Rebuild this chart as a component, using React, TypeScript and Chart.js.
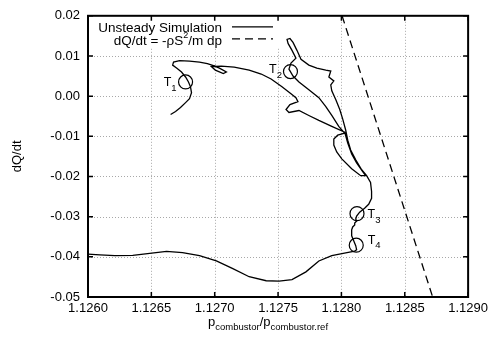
import React, { useEffect, useRef } from "react";
import { Chart, registerables } from "chart.js";

Chart.register(...registerables);

// ---- data ----
const xTicks = [1.126, 1.1265, 1.127, 1.1275, 1.128, 1.1285, 1.129];
const yTicks = [0.02, 0.01, 0.0, -0.01, -0.02, -0.03, -0.04, -0.05];

const simX = [
  1.126652, 1.126691, 1.12673, 1.12677, 1.126801, 1.126817, 1.126809, 1.126793, 1.12677, 1.126738,
  1.126699, 1.126668, 1.126675, 1.126723, 1.126801, 1.12688, 1.126942, 1.12699, 1.127037, 1.127092,
  1.127068, 1.127005, 1.126974, 1.127052, 1.127154, 1.127272, 1.127367, 1.127445, 1.127531, 1.127602,
  1.127641, 1.127657, 1.127594, 1.127563, 1.127586, 1.127665, 1.127743, 1.127822, 1.127924, 1.128026,
  1.12805, 1.128081, 1.12812, 1.128168, 1.128191, 1.128152, 1.128081, 1.128003, 1.127963, 1.12794,
  1.12794, 1.127971, 1.128026, 1.127979, 1.127924, 1.127877, 1.127822, 1.127743, 1.127665, 1.127618,
  1.127586, 1.127602, 1.127641, 1.12761, 1.127579, 1.127571, 1.127594, 1.127618, 1.127649, 1.127681,
  1.127743, 1.127806, 1.127877, 1.127916, 1.127901, 1.12794, 1.127916, 1.127924, 1.127956, 1.127987,
  1.128011, 1.128034, 1.12805, 1.128073, 1.128113, 1.12816, 1.128199, 1.12823, 1.128238, 1.128238,
  1.128215, 1.128183, 1.128144, 1.12812, 1.128113, 1.12812, 1.128105, 1.128105, 1.128089, 1.128081,
  1.128081, 1.128097, 1.128113, 1.12812, 1.128105, 1.128034, 1.127924, 1.127822, 1.12772, 1.12761,
  1.127508, 1.127406, 1.127272, 1.127139, 1.127013, 1.12688, 1.126746, 1.12662, 1.126487, 1.126353,
  1.126212, 1.126094, 1.126,
];
const simY = [
  -0.00456, -0.00382, -0.00284, -0.00161, -0.00063, 0.00084, 0.00232, 0.00354, 0.00477, 0.006,
  0.00698, 0.00772, 0.00846, 0.00882, 0.0087, 0.00846, 0.00809, 0.0076, 0.00698, 0.006,
  0.00563, 0.00649, 0.00735, 0.00747, 0.00723, 0.00649, 0.00551, 0.00428, 0.00232, 0.0006,
  -0.00039, -0.00137, -0.00211, -0.00333, -0.00407, -0.00358, -0.00481, -0.00604, -0.00751, -0.00898,
  -0.01168, -0.01439, -0.0166, -0.01881, -0.01979, -0.01979, -0.01807, -0.01561, -0.01389, -0.01218,
  -0.0107, -0.00972, -0.00923, -0.00751, -0.00481, -0.0026, -0.00039, 0.00158, 0.00354, 0.00502,
  0.00674, 0.00821, 0.00944, 0.0114, 0.01312, 0.01411, 0.01435, 0.01337, 0.0114, 0.00919,
  0.00772, 0.00698, 0.00649, 0.00625, 0.00477, 0.00379, 0.00281, 0.00133, -0.00088, -0.00333,
  -0.00579, -0.00849, -0.01095, -0.0134, -0.01586, -0.01832, -0.01979, -0.02151, -0.02372, -0.02544,
  -0.02691, -0.02789, -0.02888, -0.02986, -0.0306, -0.03109, -0.03158, -0.03207, -0.03256, -0.0333,
  -0.03477, -0.036, -0.03723, -0.03821, -0.03858, -0.03902, -0.03968, -0.04103, -0.04374, -0.04565,
  -0.04607, -0.04595, -0.04496, -0.04288, -0.04103, -0.03968, -0.03895, -0.03863, -0.03912, -0.03963,
  -0.03968, -0.03949, -0.03931,
];

const lineX = [1.128005, 1.12872];
const lineY = [0.02, -0.05];

const markerNames = ["1", "2", "3", "4"];
const markerX = [1.12677, 1.127598, 1.128123, 1.128117];
const markerY = [0.00354, 0.00612, -0.02925, -0.0371];

// ---- styling ----
const FAM = '"Liberation Sans", Arial, Helvetica, sans-serif';
const labelStyle = [
  { align: "right", dx: -9, dy: 4.5 },
  { align: "right", dx: -8.5, dy: 1.5 },
  { align: "left", dx: 10.5, dy: 4.7 },
  { align: "left", dx: 11.5, dy: -1.5 },
];

type Seg = { t: string; s?: "sub" | "sup" };

function drawRich(
  ctx: CanvasRenderingContext2D,
  segs: Seg[],
  x: number,
  y: number,
  align: string,
  mainPx: number,
  smallPx: number,
  subShift: number,
  supShift: number
) {
  let w = 0;
  for (const s of segs) {
    ctx.font = `${s.s ? smallPx : mainPx}px ${FAM}`;
    w += ctx.measureText(s.t).width;
  }
  let cx = align === "right" ? x - w : align === "center" ? x - w / 2 : x;
  ctx.textAlign = "left";
  ctx.textBaseline = "alphabetic";
  ctx.fillStyle = "#000";
  for (const s of segs) {
    ctx.font = `${s.s ? smallPx : mainPx}px ${FAM}`;
    const dy = s.s === "sub" ? subShift : s.s === "sup" ? -supShift : 0;
    ctx.fillText(s.t, cx, y + dy);
    cx += ctx.measureText(s.t).width;
  }
}

const decoPlugin = {
  id: "deco",
  beforeDatasetsDraw(chart: any) {
    const { ctx, chartArea: a, scales } = chart;
    ctx.save();
    ctx.strokeStyle = "#a8a8a8";
    ctx.lineWidth = 1;
    ctx.setLineDash([1, 2]);
    for (const v of xTicks.slice(1, -1)) {
      const px = Math.round(scales.x.getPixelForValue(v)) + 0.5;
      ctx.beginPath();
      ctx.moveTo(px, a.top);
      ctx.lineTo(px, a.bottom);
      ctx.stroke();
    }
    for (const v of yTicks.slice(1, -1)) {
      const py = Math.round(scales.y.getPixelForValue(v)) + 0.5;
      ctx.beginPath();
      ctx.moveTo(a.left, py);
      ctx.lineTo(a.right, py);
      ctx.stroke();
    }
    ctx.setLineDash([]);
    // key background
    ctx.fillStyle = "#fff";
    ctx.fillRect(a.left + 1, a.top + 1, 192, 31);
    ctx.restore();
  },
  afterDatasetsDraw(chart: any) {
    const { ctx, chartArea: a, scales } = chart;
    ctx.save();
    // frame
    ctx.strokeStyle = "#000";
    ctx.lineWidth = 2;
    ctx.strokeRect(a.left, a.top, a.right - a.left, a.bottom - a.top);
    // ticks
    ctx.lineWidth = 1.5;
    const tl = 5;
    for (const v of xTicks) {
      const px = scales.x.getPixelForValue(v);
      ctx.beginPath();
      ctx.moveTo(px, a.bottom);
      ctx.lineTo(px, a.bottom - tl);
      ctx.moveTo(px, a.top);
      ctx.lineTo(px, a.top + tl);
      ctx.stroke();
    }
    for (const v of yTicks) {
      const py = scales.y.getPixelForValue(v);
      ctx.beginPath();
      ctx.moveTo(a.left, py);
      ctx.lineTo(a.left + tl, py);
      ctx.moveTo(a.right, py);
      ctx.lineTo(a.right - tl, py);
      ctx.stroke();
    }
    // key
    ctx.lineWidth = 1.3;
    drawRich(ctx, [{ t: "Unsteady Simulation" }], a.left + 134, a.top + 16, "right", 13.5, 9, 4, 7);
    ctx.beginPath();
    ctx.moveTo(a.left + 144, a.top + 11);
    ctx.lineTo(a.left + 185, a.top + 11);
    ctx.stroke();
    drawRich(
      ctx,
      [{ t: "dQ/dt = -ρS" }, { t: "2", s: "sup" }, { t: "/m dp" }],
      a.left + 134,
      a.top + 29,
      "right",
      13.5,
      9,
      4,
      7
    );
    ctx.setLineDash([8, 5]);
    ctx.beginPath();
    ctx.moveTo(a.left + 144, a.top + 23);
    ctx.lineTo(a.left + 185, a.top + 23);
    ctx.stroke();
    ctx.setLineDash([]);
    // T labels
    markerNames.forEach((n, i) => {
      const px = scales.x.getPixelForValue(markerX[i]);
      const py = scales.y.getPixelForValue(markerY[i]);
      const st = labelStyle[i];
      drawRich(ctx, [{ t: "T" }, { t: n, s: "sub" }], px + st.dx, py + st.dy, st.align, 12.5, 9.5, 4.5, 5);
    });
    // x axis title
    const cxm = (a.left + a.right) / 2 - 10;
    drawRich(
      ctx,
      [
        { t: "p" },
        { t: "combustor", s: "sub" },
        { t: "/" },
        { t: "p" },
        { t: "combustor.ref", s: "sub" },
      ],
      cxm,
      a.bottom + 29,
      "center",
      13,
      9.5,
      4,
      6
    );
    ctx.restore();
  },
};

export default function App() {
  const ref = useRef<HTMLCanvasElement | null>(null);
  useEffect(() => {
    if (!ref.current) return;
    const tickFont = { family: FAM, size: 13 };
    const chart = new Chart(ref.current, {
      type: "scatter",
      data: {
        datasets: [
          {
            label: "Unsteady Simulation",
            data: simX.map((x, i) => ({ x, y: simY[i] })),
            showLine: true,
            borderColor: "#000",
            borderWidth: 1.3,
            pointRadius: 0,
            tension: 0,
          },
          {
            label: "dQ/dt",
            data: lineX.map((x, i) => ({ x, y: lineY[i] })),
            showLine: true,
            borderColor: "#000",
            borderWidth: 1.3,
            borderDash: [8, 5],
            pointRadius: 0,
          },
          {
            label: "T",
            data: markerX.map((x, i) => ({ x, y: markerY[i] })),
            showLine: false,
            pointRadius: 7,
            pointStyle: "circle",
            pointBorderColor: "#000",
            pointBackgroundColor: "rgba(0,0,0,0)",
            pointBorderWidth: 1.2,
          },
        ],
      },
      options: {
        responsive: false,
        animation: false,
        events: [],
        layout: { padding: { left: 0, top: 12, right: 22, bottom: 0 } },
        plugins: { legend: { display: false }, tooltip: { enabled: false }, title: { display: false } },
        scales: {
          x: {
            type: "linear",
            min: 1.126,
            max: 1.129,
            afterBuildTicks: (s: any) => {
              s.ticks = xTicks.map((v) => ({ value: v }));
            },
            afterFit: (s: any) => {
              s.height = 48;
            },
            grid: { display: false, drawTicks: false },
            border: { display: false },
            ticks: {
              padding: 4,
              color: "#000",
              font: tickFont,
              maxRotation: 0,
              autoSkip: false,
              callback: (v: any) => Number(v).toFixed(4),
            },
          },
          y: {
            type: "linear",
            min: -0.05,
            max: 0.02,
            afterBuildTicks: (s: any) => {
              s.ticks = yTicks.map((v) => ({ value: v }));
            },
            afterFit: (s: any) => {
              s.width = 88;
            },
            grid: { display: false, drawTicks: false },
            border: { display: false },
            title: {
              display: true,
              text: "dQ/dt",
              color: "#000",
              font: { family: FAM, size: 13 },
              padding: { top: 10, bottom: 0 },
            },
            ticks: {
              padding: 8,
              color: "#000",
              font: tickFont,
              autoSkip: false,
              callback: (v: any) => (Math.abs(Number(v)) < 1e-9 ? "0.00" : Number(v).toFixed(2)),
            },
          },
        },
      },
      plugins: [decoPlugin],
    });
    return () => chart.destroy();
  }, []);
  return (
    <div style={{ position: "fixed", left: 0, top: 0, width: 492, height: 345, background: "#fff" }}>
      <canvas ref={ref} width={492} height={345} style={{ display: "block" }} />
    </div>
  );
}
